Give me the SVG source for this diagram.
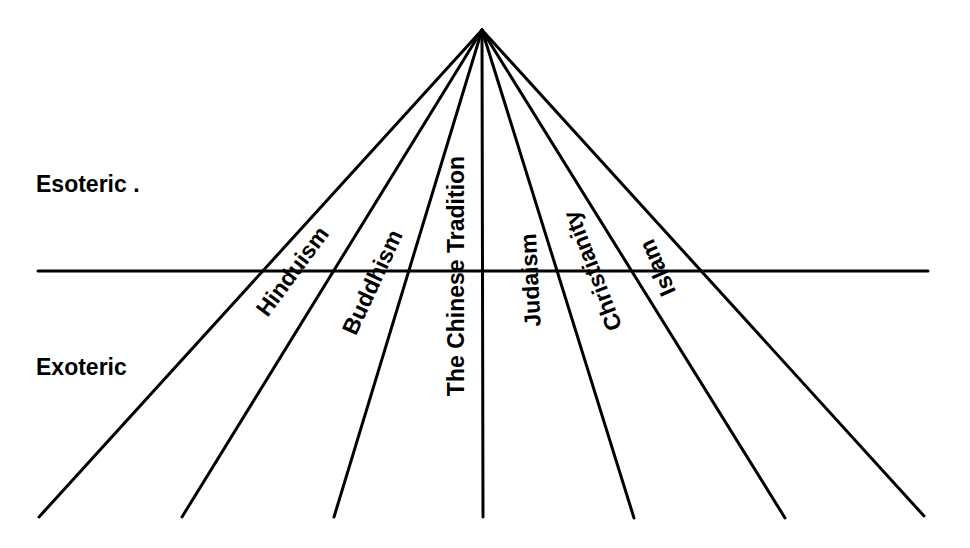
<svg xmlns="http://www.w3.org/2000/svg" width="970" height="548" viewBox="0 0 970 548">
<style>
.ln{stroke:#000;stroke-width:3;stroke-linecap:round;fill:none}
.t{font-family:"Liberation Sans",Arial,sans-serif;font-weight:bold;font-size:23px;fill:#000}
.c{text-anchor:middle}
</style>
<rect width="970" height="548" fill="#fff"/>
<g id="connectors">
<line class="ln" x1="38" y1="271" x2="928" y2="271"/>
<line class="ln" x1="482" y1="30" x2="39" y2="517"/>
<line class="ln" x1="482" y1="30" x2="182" y2="517"/>
<line class="ln" x1="482" y1="30" x2="334" y2="517"/>
<line class="ln" x1="482" y1="30" x2="483" y2="517"/>
<line class="ln" x1="482" y1="30" x2="634" y2="518"/>
<line class="ln" x1="482" y1="30" x2="785" y2="518"/>
<line class="ln" x1="482" y1="30" x2="924" y2="516"/>
</g>
<g id="esoteric"><text class="t" x="36" y="192" font-size="25">Esoteric .</text></g>
<g id="exoteric"><text class="t" x="36" y="375" font-size="25">Exoteric</text></g>
<g id="hinduism"><text class="t c" transform="translate(292,271) rotate(-53.5)" dy="0.36em">Hinduism</text></g>
<g id="buddhism"><text class="t c" transform="translate(372,282) rotate(-65)" dy="0.36em">Buddhism</text></g>
<g id="chinese"><text class="t c" transform="translate(456,276) rotate(-90)" dy="0.36em" font-size="25">The Chinese Tradition</text></g>
<g id="judaism"><text class="t c" transform="translate(530,280) rotate(-93)" dy="0.36em">Judaism</text></g>
<g id="christianity"><text class="t c" transform="translate(592,271) rotate(-111)" dy="0.36em">Christianity</text></g>
<g id="islam"><text class="t c" transform="translate(657,268) rotate(-113.5)" dy="0.36em">Islam</text></g>
</svg>
